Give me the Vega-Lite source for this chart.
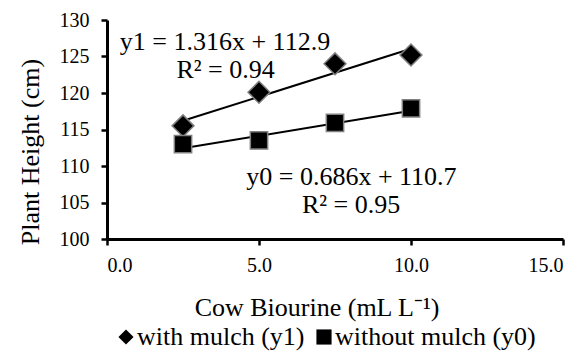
{
  "$schema": "https://vega.github.io/schema/vega-lite/v6.json",
  "width": 456,
  "height": 219,
  "autosize": "none",
  "padding": {"left": 107, "top": 20, "right": 22, "bottom": 112},
  "background": "white",
  "config": {
    "view": {"stroke": null},
    "font": "Liberation Serif",
    "axis": {"grid": false, "domainColor": "black", "tickColor": "black", "labelColor": "black", "titleColor": "black", "labelFont": "Liberation Serif", "titleFont": "Liberation Serif", "titleFontWeight": "normal", "labelOverlap": false},
    "legend": {"labelFont": "Liberation Serif", "labelColor": "black"}
  },
  "datasets": {
    "points": [
      {"x": 2.5, "y": 115.5, "series": "with mulch (y1)"},
      {"x": 5.0, "y": 120.1, "series": "with mulch (y1)"},
      {"x": 7.5, "y": 124.0, "series": "with mulch (y1)"},
      {"x": 10.0, "y": 125.2, "series": "with mulch (y1)"},
      {"x": 2.5, "y": 113.0, "series": "without mulch (y0)"},
      {"x": 5.0, "y": 113.5, "series": "without mulch (y0)"},
      {"x": 7.5, "y": 115.9, "series": "without mulch (y0)"},
      {"x": 10.0, "y": 117.9, "series": "without mulch (y0)"}
    ],
    "trend": [
      {"x": 2.5, "y": 116.19, "series": "y1"},
      {"x": 10.0, "y": 126.06, "series": "y1"},
      {"x": 2.5, "y": 112.42, "series": "y0"},
      {"x": 10.0, "y": 117.56, "series": "y0"}
    ],
    "labels": [
      {"x": 3.88, "y": 125.89, "text": "y1 = 1.316x + 112.9"},
      {"x": 3.9, "y": 122.01, "text": "R² = 0.94"},
      {"x": 8.04, "y": 107.4, "text": "y0 = 0.686x + 110.7"},
      {"x": 8.03, "y": 103.52, "text": "R² = 0.95"}
    ]
  },
  "encoding": {
    "x": {"field": "x", "type": "quantitative", "scale": {"domain": [0, 15], "nice": false, "zero": false},
      "axis": {"values": [0, 5, 10, 15], "tickCount": 20, "format": ".1f", "title": "Cow Biourine (mL L⁻¹)", "titleFont": "Liberation Serif", "labelFont": "Liberation Serif", "titleFontSize": 26, "labelFontSize": 20, "domainWidth": 3, "tickWidth": 2.5, "tickSize": 6, "labelPadding": 10, "labelOverlap": false, "titleX": 209.5, "titleY": 76, "titleBaseline": "alphabetic", "titleAlign": "center"}},
    "y": {"field": "y", "type": "quantitative", "scale": {"domain": [100, 130], "nice": false, "zero": false},
      "axis": {"values": [100, 105, 110, 115, 120, 125, 130], "tickCount": 20, "format": "d", "title": "Plant Height (cm)", "titleFont": "Liberation Serif", "labelFont": "Liberation Serif", "titleFontSize": 26, "labelFontSize": 20, "domainWidth": 3, "tickWidth": 2.5, "tickSize": 6, "labelPadding": 12, "labelOverlap": false, "titleX": -69, "titleY": 131.5, "titleBaseline": "alphabetic", "titleAlign": "center", "titleAngle": -90}}
  },
  "layer": [
    {
      "data": {"name": "trend"},
      "mark": {"type": "line", "color": "black", "strokeWidth": 2},
      "encoding": {
        "detail": {"field": "series"}
      }
    },
    {
      "data": {"name": "points"},
      "transform": [{"filter": "datum.series === 'with mulch (y1)'"}],
      "mark": {"type": "point", "filled": true, "fill": "black", "stroke": "#808080", "strokeWidth": 1.5, "opacity": 1, "size": 480},
      "encoding": {
        "shape": {"field": "series", "type": "nominal",
          "scale": {"domain": ["with mulch (y1)", "without mulch (y0)"], "range": ["diamond", "square"]},
          "legend": {"title": null, "orient": "none", "direction": "horizontal", "legendX": 6, "legendY": 304, "padding": 0, "labelFontSize": 26, "labelFont": "Liberation Serif", "symbolSize": 230, "symbolFillColor": "black", "symbolStrokeColor": "#808080", "symbolStrokeWidth": 1.5, "symbolOpacity": 1, "labelOffset": -2, "columnPadding": 6, "labelLimit": 400}}
      }
    },
    {
      "data": {"name": "points"},
      "transform": [{"filter": "datum.series === 'without mulch (y0)'"}],
      "mark": {"type": "point", "filled": true, "fill": "black", "stroke": "#808080", "strokeWidth": 1.5, "opacity": 1, "size": 300},
      "encoding": {
        "shape": {"field": "series", "type": "nominal"}
      }
    },
    {
      "data": {"name": "labels"},
      "mark": {"type": "text", "font": "Liberation Serif", "fontSize": 26, "color": "black", "align": "center", "baseline": "alphabetic"},
      "encoding": {
        "text": {"field": "text"}
      }
    }
  ]
}
